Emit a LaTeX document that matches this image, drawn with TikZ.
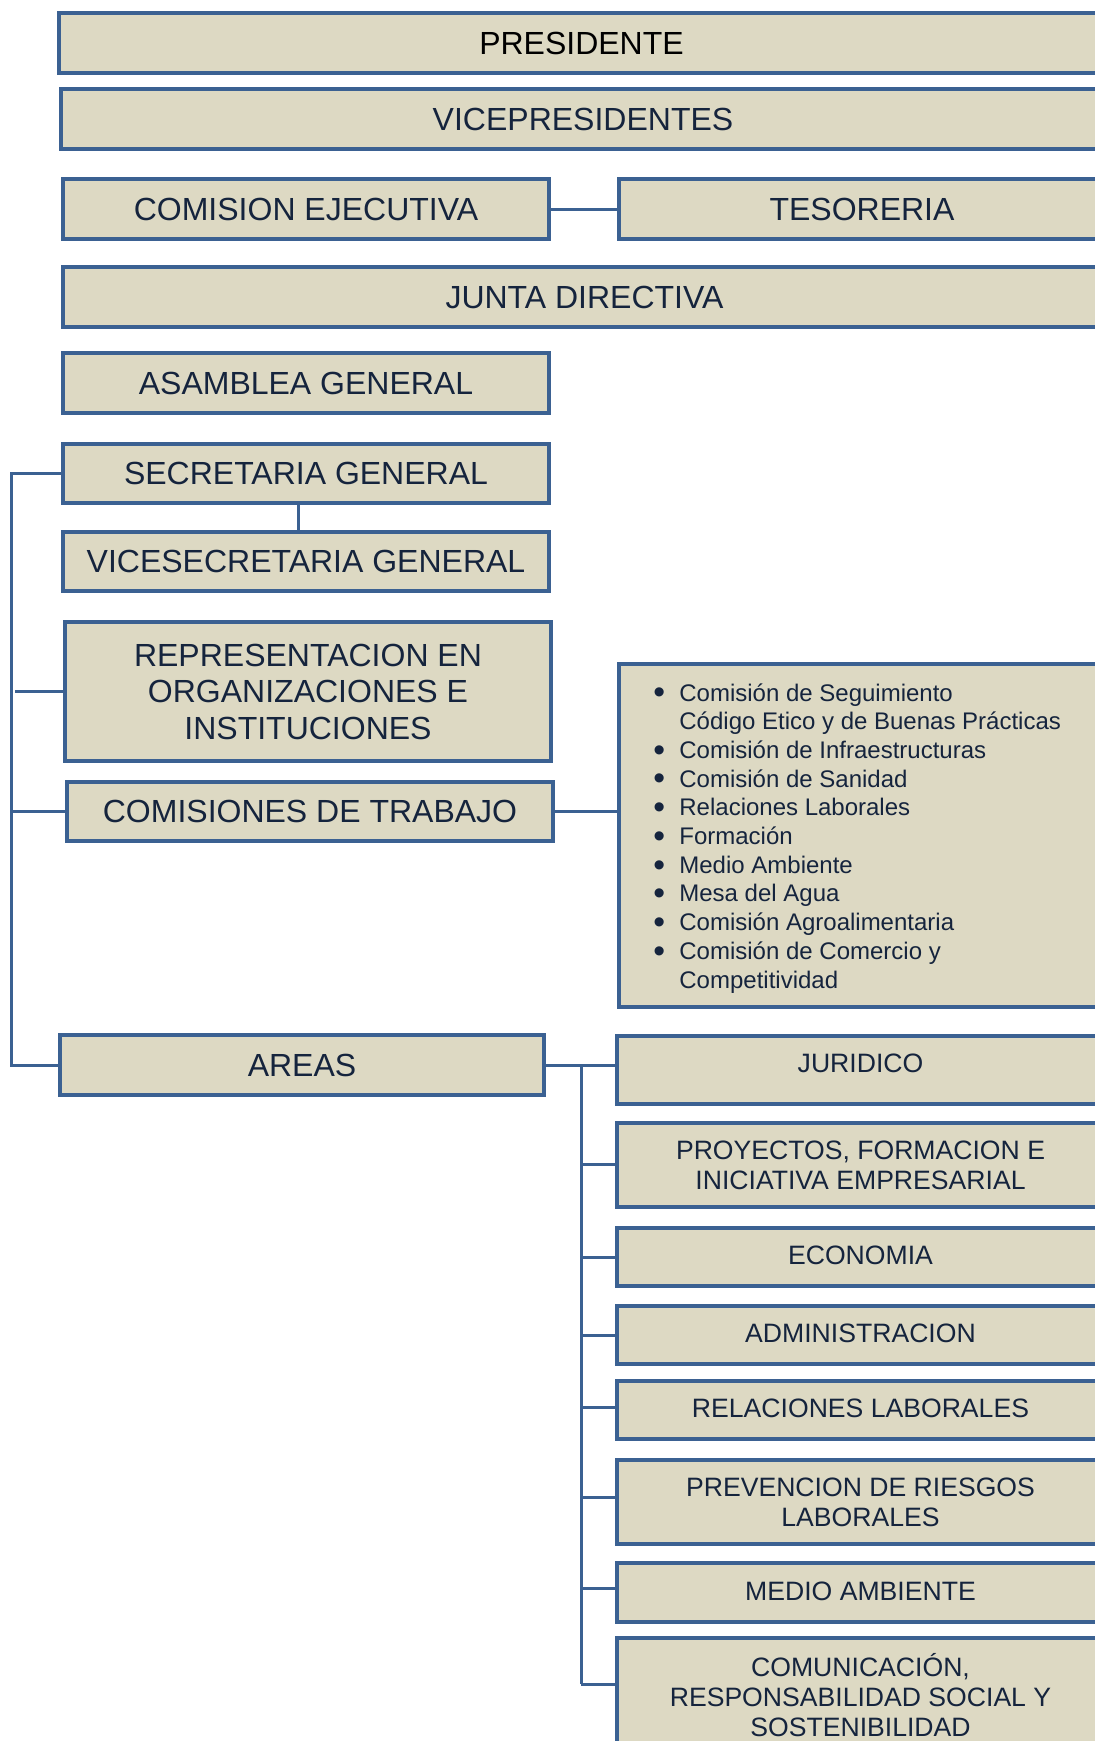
\documentclass[tikz,border=0pt]{standalone}
\usepackage{fontspec}
\setmainfont{Liberation Sans}
\usepackage{graphicx}
\definecolor{boxfill}{HTML}{DDD9C3}
\definecolor{boxline}{HTML}{3B6192}
\definecolor{txt}{HTML}{15243D}
\newcommand\mybul{\makebox[13pt][l]{\raisebox{-0.12em}{\scalebox{1.4}{•}}}}
\begin{document}
\begin{tikzpicture}[x=0.5pt,y=-0.5pt,
  box/.style={draw=boxline, fill=boxfill, line width=1.75pt, inner sep=0pt, text=txt,
    font=\fontsize{16pt}{18.25pt}\selectfont, align=center},
  abox/.style={box, font=\fontsize{13.3pt}{15pt}\selectfont},
  aone/.style={abox, text height=9.5pt, text depth=2pt},
  conn/.style={draw=boxline, line width=1.5pt}]
\useasboundingbox (0,0) rectangle (1095,1741);
\clip (0,0) rectangle (1095,1741);

% top rows
\node[box, text=black, minimum width=522.5pt, minimum height=30pt] (pres) at (581.5,43) {PRESIDENTE};
\node[box, minimum width=522pt, minimum height=30pt] (vice) at (583,119) {VICEPRESIDENTES};
\node[box, minimum width=243pt, minimum height=30pt] (ce) at (306,209) {COMISION EJECUTIVA};
\node[box, minimum width=243pt, minimum height=30pt] (tes) at (862,209) {TESORERIA};
\node[box, minimum width=521.5pt, minimum height=30pt] (junta) at (584.5,297) {JUNTA DIRECTIVA};
\node[box, minimum width=243pt, minimum height=30pt] (asam) at (306,383) {ASAMBLEA GENERAL};
\node[box, minimum width=243pt, minimum height=29.5pt] (sec) at (306,473.5) {SECRETARIA GENERAL};
\node[box, minimum width=243pt, minimum height=29.5pt] (vsec) at (306,561.5) {VICESECRETARIA GENERAL};
\node[box, minimum width=243pt, minimum height=69.5pt] (rep) at (308,691.5) {REPRESENTACION EN\\ORGANIZACIONES E\\INSTITUCIONES};
\node[box, minimum width=243pt, minimum height=29.5pt] (ct) at (310,811.5) {COMISIONES DE TRABAJO};

% list of commissions
\node[box, minimum width=243pt, minimum height=171.5pt] (list) at (862,835.5) {};
\node[anchor=base west, inner sep=0pt, text=txt, font=\fontsize{12pt}{14.35pt}\selectfont] (items) at (653,701) {%
\begin{tabular}[t]{@{}l@{}l@{}}
\mybul & Comisión de Seguimiento\\
 & Código Etico y de Buenas Prácticas\\
\mybul & Comisión de Infraestructuras\\
\mybul & Comisión de Sanidad\\
\mybul & Relaciones Laborales\\
\mybul & Formación\\
\mybul & Medio Ambiente\\
\mybul & Mesa del Agua\\
\mybul & Comisión Agroalimentaria\\
\mybul & Comisión de Comercio y\\
 & Competitividad
\end{tabular}};

% areas
\node[box, minimum width=242pt, minimum height=30pt] (areas) at (302,1065) {AREAS};
\node[aone, minimum width=243.5pt, minimum height=34pt, text depth=7pt] (jur) at (860.5,1070) {JURIDICO};
\node[abox, minimum width=243.5pt, minimum height=42pt] (pro) at (860.5,1165) {PROYECTOS, FORMACION E\\INICIATIVA EMPRESARIAL};
\node[aone, minimum width=243.5pt, minimum height=29pt] (eco) at (860.5,1257) {ECONOMIA};
\node[aone, minimum width=243.5pt, minimum height=29pt] (adm) at (860.5,1335) {ADMINISTRACION};
\node[aone, minimum width=243.5pt, minimum height=29pt] (rel) at (860.5,1410) {RELACIONES LABORALES};
\node[abox, minimum width=243.5pt, minimum height=42pt] (prev) at (860.5,1502) {PREVENCION DE RIESGOS\\LABORALES};
\node[aone, minimum width=243.5pt, minimum height=29.5pt] (med) at (860.5,1592.5) {MEDIO AMBIENTE};
\node[abox, minimum width=243.5pt, minimum height=57pt] (com) at (860.5,1695) {COMUNICACIÓN,\\RESPONSABILIDAD SOCIAL Y\\SOSTENIBILIDAD};

% connectors
\draw[conn] (ce.east) -- (tes.west);
\draw[conn] ([xshift=-4pt]sec.south) -- ([xshift=-4pt]vsec.north);
\draw[conn] (sec.west) -- ++(-50,0) |- (areas.west);
\draw[conn] (rep.west) -- ++(-48,0);
\draw[conn] (ct.west) -- ++(-54,0);
\draw[conn] (ct.east) -- (ct.east -| list.west);

\coordinate (busT) at (581,1066);
\coordinate (busB) at (581,1684);
\draw[conn] (areas.east) -- (areas.east -| jur.west);
\draw[conn] (busT) -- (busB);
\coordinate (bP) at (581,1164);
\coordinate (bE) at (581,1257);
\coordinate (bA) at (581,1335);
\coordinate (bR) at (581,1407);
\coordinate (bV) at (581,1497);
\coordinate (bM) at (581,1588);
\draw[conn] (bP) -- (bP -| pro.west);
\draw[conn] (bE) -- (bE -| eco.west);
\draw[conn] (bA) -- (bA -| adm.west);
\draw[conn] (bR) -- (bR -| rel.west);
\draw[conn] (bV) -- (bV -| prev.west);
\draw[conn] (bM) -- (bM -| med.west);
\draw[conn] (busB) -- (busB -| com.west);
\end{tikzpicture}
\end{document}
